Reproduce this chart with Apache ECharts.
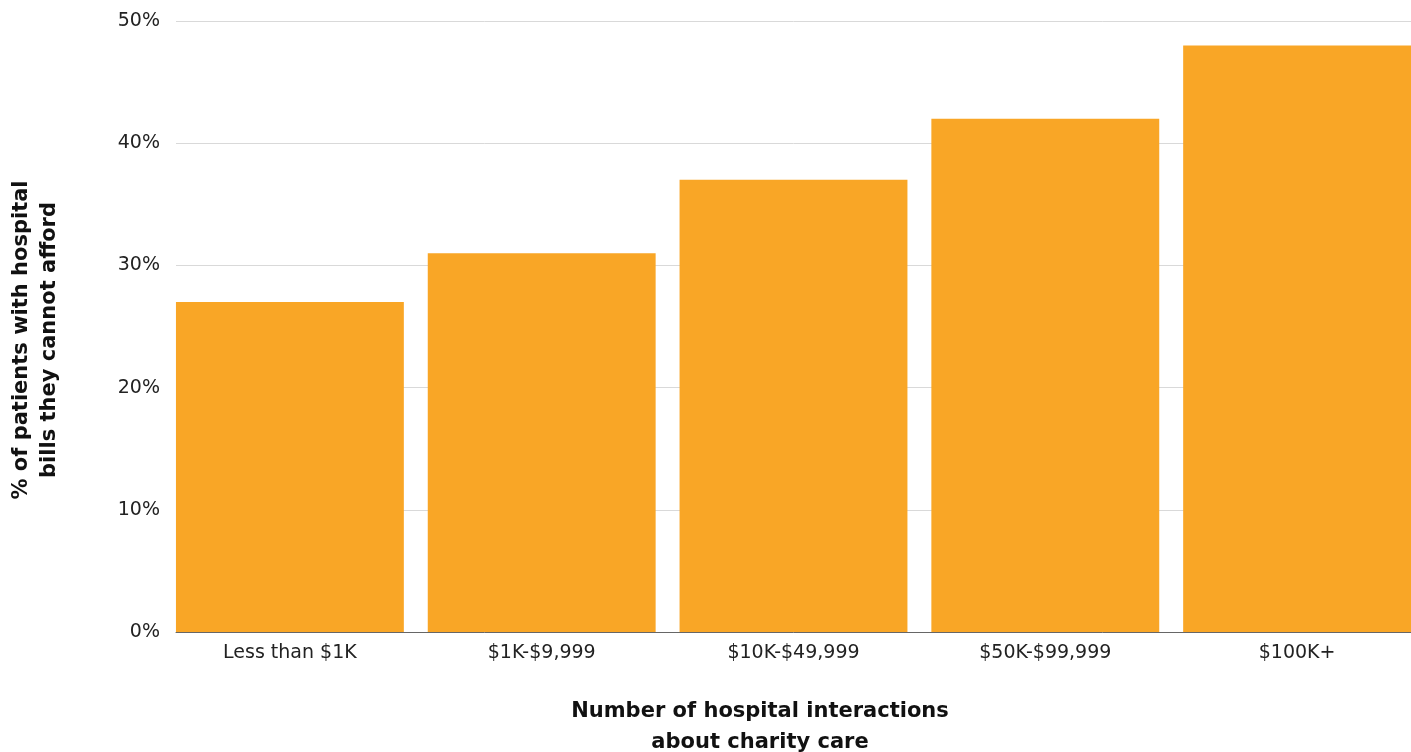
<!DOCTYPE html>
<html>
<head>
<meta charset="utf-8">
<script src="https://cdn.jsdelivr.net/npm/echarts@6/dist/echarts.min.js"></script>
<style>
  html, body { margin: 0; padding: 0; background: #ffffff; }
  #chart { width: 1411px; height: 752px; }
</style>
</head>
<body>
<div id="chart"></div>
<script>
// Spending brackets and share of patients with hospital bills they cannot afford (%)
const categories = ['Less than $1K', '$1K-$9,999', '$10K-$49,999', '$50K-$99,999', '$100K+'];
const shareValues = [27, 31, 37, 42, 48];
const yTicks = { min: 0, max: 50, interval: 10 };

const FONT = 'DejaVu Sans';
const chart = echarts.init(document.getElementById('chart'), null, { renderer: 'canvas' });

chart.setOption({
  animation: false,
  textStyle: { fontFamily: FONT },
  grid: [
    // grid for the value axis, gridlines and baseline
    { left: 176, right: 0, top: 21, bottom: 120, outerBoundsMode: 'none', containLabel: false },
    // grid for the bars: wider by half a gap on each side so the outer bars sit flush
    { left: 164, width: 1259, top: 21, bottom: 120, outerBoundsMode: 'none', containLabel: false }
  ],
  xAxis: [
    {
      gridIndex: 0, type: 'value', min: 0, max: 1,
      axisLine: { show: true, onZero: false, lineStyle: { color: '#666666', width: 1 } },
      axisTick: { show: false }, axisLabel: { show: false }, splitLine: { show: false }
    },
    {
      gridIndex: 1, type: 'category', data: categories,
      axisLine: { show: false }, axisTick: { show: false },
      axisLabel: { color: '#222222', fontSize: 19, margin: 12, fontFamily: FONT }
    }
  ],
  yAxis: [
    {
      gridIndex: 0, type: 'value', min: yTicks.min, max: yTicks.max, interval: yTicks.interval,
      axisLine: { show: false }, axisTick: { show: false },
      axisLabel: { color: '#222222', fontSize: 19, margin: 16, formatter: '{value}%', fontFamily: FONT },
      splitLine: { lineStyle: { color: '#d9d9d9', width: 1 } }
    },
    {
      gridIndex: 1, type: 'value', min: yTicks.min, max: yTicks.max, interval: yTicks.interval,
      show: false
    }
  ],
  series: [
    {
      type: 'bar', xAxisIndex: 1, yAxisIndex: 1,
      data: shareValues,
      barCategoryGap: '9.5%',
      itemStyle: { color: '#F9A626' },
      z: 3
    }
  ],
  graphic: [
    {
      type: 'text',
      x: 760, y: 727,
      style: {
        text: 'Number of hospital interactions\nabout charity care',
        font: 'bold 21px "DejaVu Sans"', fill: '#111111',
        textAlign: 'center', textVerticalAlign: 'middle', lineHeight: 31
      }
    },
    {
      type: 'text',
      x: 36, y: 340, rotation: Math.PI / 2,
      style: {
        text: '% of patients with hospital\nbills they cannot afford',
        font: 'bold 21px "DejaVu Sans"', fill: '#111111',
        textAlign: 'center', textVerticalAlign: 'middle', lineHeight: 28
      }
    }
  ]
});
</script>
</body>
</html>
